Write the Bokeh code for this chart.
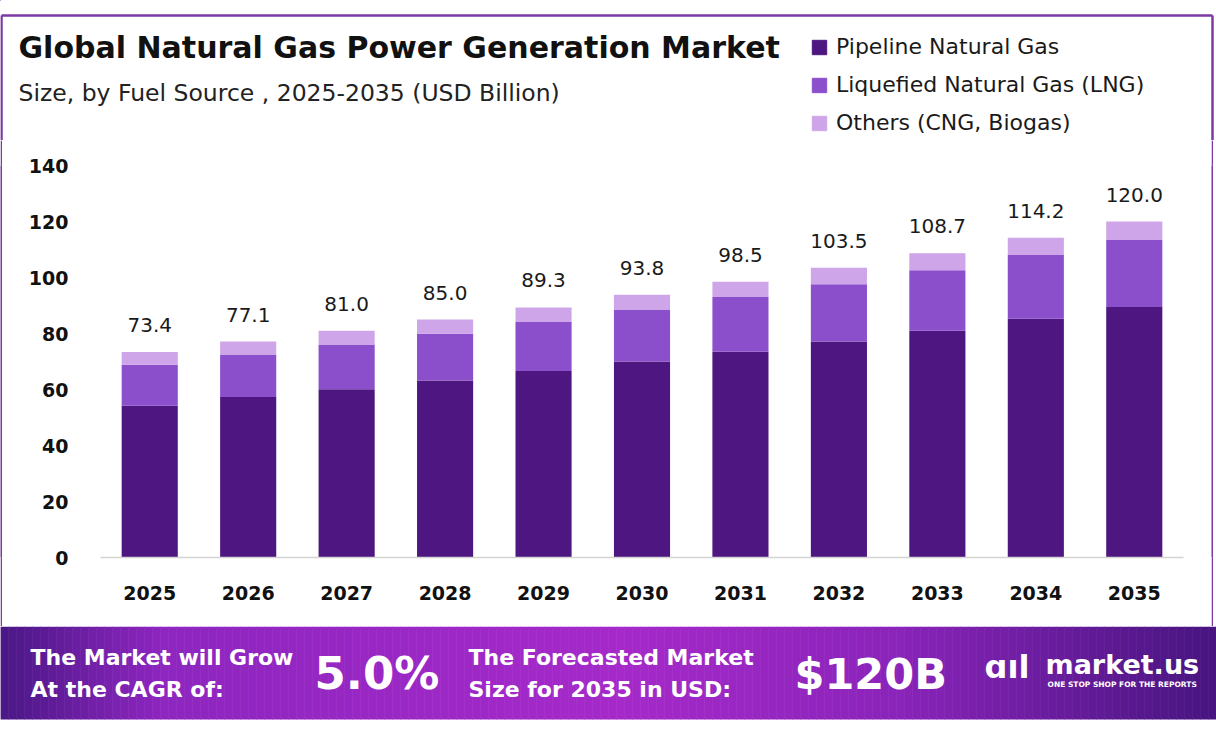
from bokeh.plotting import figure
from bokeh.layouts import column, row
from bokeh.models import (Range1d, FixedTicker, Label, Legend, LegendItem, ColumnDataSource)
from bokeh.core.properties import value
from bokeh.embed import file_html
from bokeh.resources import INLINE
import numpy as np

# ---------------- data ----------------
years = ["2025", "2026", "2027", "2028", "2029", "2030", "2031", "2032", "2033", "2034", "2035"]
pipeline = [54.2, 57.3, 60.1, 63.2, 66.6, 70.0, 73.5, 77.1, 81.0, 85.3, 89.5]
lng = [14.6, 15.2, 16.0, 16.7, 17.5, 18.6, 19.5, 20.5, 21.6, 22.7, 23.9]
others = [4.6, 4.6, 4.9, 5.1, 5.2, 5.2, 5.5, 5.9, 6.1, 6.2, 6.6]
totals = [73.4, 77.1, 81.0, 85.0, 89.3, 93.8, 98.5, 103.5, 108.7, 114.2, 120.0]
series_names = ["Pipeline Natural Gas", "Liquefied Natural Gas (LNG)", "Others (CNG, Biogas)"]
y_ticks = [0, 20, 40, 60, 80, 100, 120, 140]

title_text = "Global Natural Gas Power Generation Market"
subtitle_text = "Size, by Fuel Source , 2025-2035 (USD Billion)"
cagr_text = "5.0%"
forecast_text = "$120B"

# ---------------- style ----------------
FONT = "DejaVu Sans"
colors = ["#4e1680", "#8b4fcc", "#cda5e8"]
BORDER = "#7b3aa3"
keys = ["pipeline", "lng", "others"]


def deco_fig(w, h, x0, x1, y_top, y_bot):
    f = figure(width=w, height=h, x_range=Range1d(x0, x1), y_range=Range1d(y_bot, y_top),
               output_backend="svg", toolbar_location=None, x_axis_type=None, y_axis_type=None,
               min_border=0, min_border_left=0, min_border_right=0, min_border_top=0,
               min_border_bottom=0)
    f.outline_line_color = None
    f.grid.grid_line_color = None
    f.background_fill_color = "white"
    f.border_fill_color = "white"
    return f


def lab(f, x, y, text, size, color="#111111", style="normal", align="left", base="middle"):
    f.add_layout(Label(x=x, y=y, text=text, text_font=FONT, text_font_size=size,
                       text_color=color, text_font_style=style, text_align=align,
                       text_baseline=base))


# ---------------- header (title, subtitle, legend) ----------------
head = deco_fig(1216, 140, 0, 1216, 0, 140)
head.segment(x0=[1, 1, 1212], y0=[15, 15, 15], x1=[1212, 1, 1212], y1=[15, 140, 140],
             line_color=BORDER, line_width=2.5)
lab(head, 18, 47, title_text, "30px", style="bold")
lab(head, 18, 92, subtitle_text, "23.5px", color="#222222")

# legend swatches (renderers kept outside the visible header area)
leg_renderers = [head.vbar(x=[-500], top=[-500], bottom=[-501], width=1, color=c) for c in colors]
legend = Legend(items=[LegendItem(label=n, renderers=[r]) for n, r in zip(series_names, leg_renderers)],
                location=(810, 5), orientation="vertical",
                glyph_width=18, glyph_height=18, label_height=24, spacing=13,
                label_standoff=8, padding=0, margin=0,
                label_text_font=FONT, label_text_font_size="22px", label_text_color="#1a1a1a",
                border_line_color=None, background_fill_alpha=0)
head.add_layout(legend, "center")

# ---------------- main chart ----------------
p = figure(x_range=years, y_range=Range1d(0, 140), width=1209, height=486,
           output_backend="svg", toolbar_location=None,
           min_border_left=98, min_border_right=28, min_border_top=25, min_border_bottom=69)
p.outline_line_color = None
p.background_fill_color = "white"
p.border_fill_color = "white"
p.xgrid.grid_line_color = None
p.ygrid.grid_line_color = None

src = ColumnDataSource(dict(years=years, pipeline=pipeline, lng=lng, others=others, totals=totals,
                            labels=[f"{t:.1f}" for t in totals]))
rs = p.vbar_stack(keys, x="years", width=0.57, color=colors, source=src, line_color=None)

p.text(x="years", y="totals", text="labels", source=src, text_align="center",
       text_baseline="middle", y_offset=-27, text_font=value(FONT), text_font_size="20px",
       text_color="#1a1a1a")

p.yaxis.ticker = FixedTicker(ticks=y_ticks)
p.yaxis.axis_line_color = None
p.yaxis.major_tick_line_color = None
p.yaxis.minor_tick_line_color = None
p.yaxis.major_label_text_font = FONT
p.yaxis.major_label_text_font_style = "bold"
p.yaxis.major_label_text_font_size = "19px"
p.yaxis.major_label_text_color = "#111111"
p.yaxis.major_label_standoff = 26

p.xaxis.axis_line_color = "#d4d4d4"
p.xaxis.axis_line_width = 1.5
p.xaxis.major_tick_line_color = None
p.xaxis.minor_tick_line_color = None
p.xaxis.major_label_text_font = FONT
p.xaxis.major_label_text_font_style = "bold"
p.xaxis.major_label_text_font_size = "19px"
p.xaxis.major_label_text_color = "#111111"
p.xaxis.major_label_standoff = 22

# side border strips
def strip(w):
    s = deco_fig(w, 486, 0, 1, 0, 1)
    s.background_fill_color = BORDER
    s.border_fill_color = BORDER
    return s

left_strip = strip(2)
right_strip = strip(2)

# ---------------- footer ----------------
foot = deco_fig(1216, 107, 0, 1216, 626, 733)
stops_x = [0, 160, 620, 900, 1216]
stops_c = [(0x4a, 0x18, 0x86), (0x8e, 0x26, 0xc0), (0xa6, 0x2a, 0xca), (0x8a, 0x24, 0xba), (0x48, 0x15, 0x80)]
n = 152
edges = np.linspace(0, 1216, n + 1)
mids = (edges[:-1] + edges[1:]) / 2
cols = ["#%02x%02x%02x" % tuple(int(np.interp(m, stops_x, [s[k] for s in stops_c])) for k in range(3))
        for m in mids]
foot.quad(left=edges[:-1] - 0.3, right=edges[1:] + 0.3, top=626, bottom=719, color=cols, line_color=None)

lab(foot, 30, 657, "The Market will Grow", "22px", color="white", style="bold")
lab(foot, 30, 689, "At the CAGR of:", "22px", color="white", style="bold")
lab(foot, 314, 673, cagr_text, "45px", color="white", style="bold")
lab(foot, 468, 657, "The Forecasted Market", "22px", color="white", style="bold")
lab(foot, 468, 689, "Size for 2035 in USD:", "22px", color="white", style="bold")
lab(foot, 794, 673, forecast_text, "43px", color="white", style="bold")
lab(foot, 1045, 664, "market.us", "27px", color="white", style="bold")
lab(foot, 1047, 684, "ONE STOP SHOP FOR THE REPORTS", "7.5px", color="white", style="bold")
lab(foot, 984, 666, "ɑıl", "32px", color="white", style="bold")

layout = column(head, row(left_strip, p, right_strip), foot)
open("out.html", "w").write(file_html(layout, INLINE))
